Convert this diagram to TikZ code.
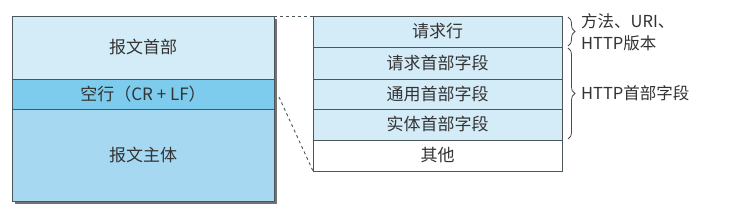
\documentclass[tikz,border=0pt]{standalone}
\usepackage{fontspec}
\setmainfont{Noto Sans CJK SC}
\usetikzlibrary{positioning,calc,decorations.pathreplacing}
\definecolor{rowlight}{RGB}{212,236,248}
\definecolor{rowblank}{RGB}{125,204,238}
\definecolor{rowbody}{RGB}{166,216,242}
\definecolor{edge}{RGB}{75,85,90}
\tikzset{
  cell/.style={draw=edge, line width=0.9pt, inner sep=0pt, outer sep=0pt,
    font=\fontsize{17}{20}\selectfont, text=black!80},
  lcell/.style={cell, minimum width=262pt},
  rcell/.style={cell, minimum width=249pt, fill=rowlight},
  brc/.style={decorate, decoration={brace, amplitude=7pt}, draw=black!70, line width=0.8pt},
  note/.style={anchor=west, align=left, inner sep=0pt, text=black!80,
    font=\fontsize{16.5}{22}\selectfont},
}
\begin{document}
\begin{tikzpicture}[x=1pt,y=-1pt]
  \useasboundingbox[fill=white] (0,0) rectangle (742,216);
  % message: header / blank line / body
  \fill[black!55] (15,19) rectangle (277,204);
  \node[lcell, fill=rowlight, minimum height=63pt, anchor=north west] (hdr) at (12,16) {报文首部};
  \node[lcell, fill=rowblank, minimum height=30pt, below=0pt of hdr] (blank) {空行（CR + LF）};
  \node[lcell, fill=rowbody, minimum height=92pt, below=0pt of blank] (body) {报文主体};
  % expanded header
  \node[rcell, minimum height=31pt, anchor=north west] (r1) at (313,16) {请求行};
  \node[rcell, minimum height=32pt, below=0pt of r1] (r2) {请求首部字段};
  \node[rcell, minimum height=30pt, below=0pt of r2] (r3) {通用首部字段};
  \node[rcell, minimum height=31pt, below=0pt of r3] (r4) {实体首部字段};
  \node[rcell, minimum height=31pt, fill=white, below=0pt of r4] (r5) {其他};
  \draw[dashed, edge, line width=0.9pt] (hdr.north east) -- (r1.north west);
  \draw[dashed, edge, line width=0.9pt] ([xshift=5pt,yshift=-3pt]blank.east) -- (r5.south west);
  % braces
  \draw[brc] ([xshift=6pt,yshift=-1pt]r1.north east) -- coordinate[xshift=10pt] (b1) ([xshift=6pt,yshift=1pt]r1.south east);
  \draw[brc] ([xshift=6pt,yshift=-1pt]r2.north east) -- coordinate[xshift=10pt] (b2) ([xshift=6pt,yshift=1pt]r4.south east);
  \node[note] (n1) at ([xshift=3pt,yshift=-1pt]b1) {方法、URI、\\HTTP版本};
  \node[note] (n2) at ([xshift=3pt]b2) {HTTP首部字段};
\end{tikzpicture}
\end{document}
